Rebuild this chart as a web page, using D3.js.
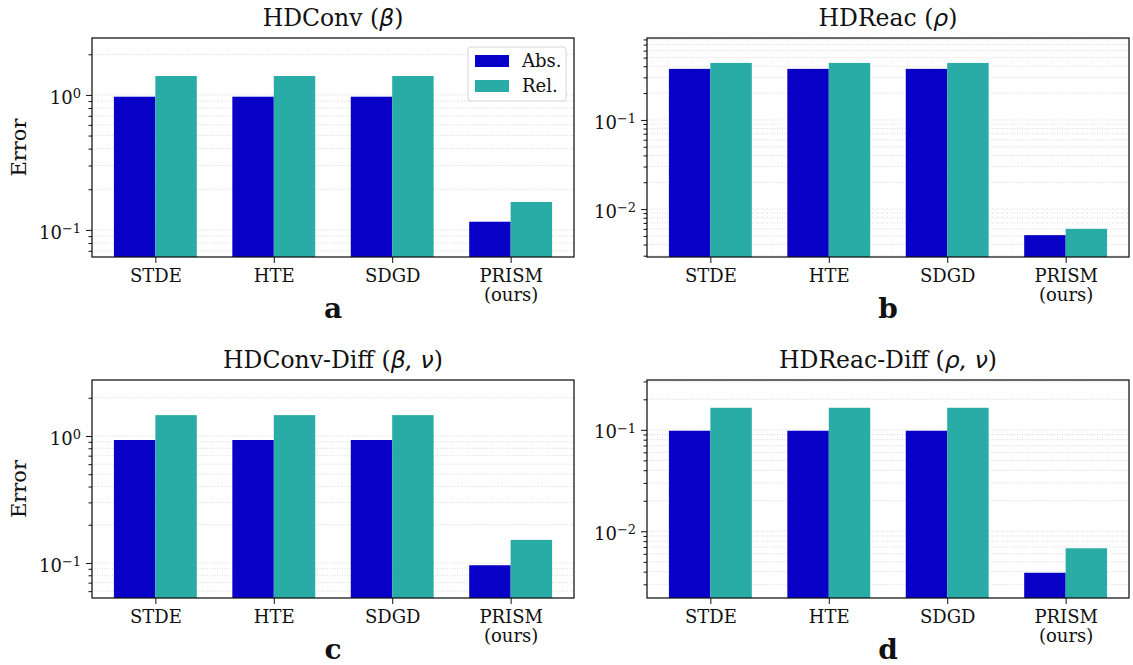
<!DOCTYPE html>
<meta charset="utf-8">
<style>
    body { margin: 0; background: #fff; }
    svg text { font-family: "DejaVu Serif", serif; fill: #111; }
    .grid line { stroke: #cfcfcf; stroke-width: 0.8; stroke-dasharray: 1,1.5; }
    .axis path { display: none; }
    .axis line { stroke: #111; stroke-width: 1; }
    .frame { fill: none; stroke: #111; stroke-width: 1.25; }
</style>
<svg width="1133" height="665"></svg>
<script src="https://d3js.org/d3.v7.min.js"></script>
<script>

    var categories = ["STDE", "HTE", "SDGD", "PRISM"];
    var seriesNames = ["Abs.", "Rel."];
    var colors = ["#0800c6", "#29aba6"];

    // values
    var absA = [0.97, 0.97, 0.97, 0.115],
        relA = [1.38, 1.38, 1.38, 0.161];
    var absB = [0.374, 0.374, 0.374, 0.0051],
        relB = [0.436, 0.436, 0.436, 0.0060];
    var absC = [0.93, 0.93, 0.93, 0.096],
        relC = [1.46, 1.46, 1.46, 0.152];
    var absD = [0.098, 0.098, 0.098, 0.0039],
        relD = [0.165, 0.165, 0.165, 0.0068];

    var panels = [
        { title: "HDConv", params: "β", letter: "a", abs: absA, rel: relA, ylim: [0.063, 2.64],
          box: { x: 92, y: 38, w: 482, h: 219 }, ylabel: true, legend: true },
        { title: "HDReac", params: "ρ", letter: "b", abs: absB, rel: relB, ylim: [0.0029, 0.83],
          box: { x: 647, y: 38, w: 482, h: 219 }, ylabel: false, legend: false },
        { title: "HDConv-Diff", params: "β, ν", letter: "c", abs: absC, rel: relC, ylim: [0.053, 2.76],
          box: { x: 92, y: 380, w: 482, h: 218 }, ylabel: true, legend: false },
        { title: "HDReac-Diff", params: "ρ, ν", letter: "d", abs: absD, rel: relD, ylim: [0.0022, 0.31],
          box: { x: 647, y: 380, w: 482, h: 218 }, ylabel: false, legend: false }
    ];

    var svg = d3.select("svg");
    var barW = 0.35;

    function supLabel(sel, k) {
        sel.text("10");
        sel.append("tspan")
            .attr("dy", "-0.45em")
            .attr("font-size", "0.72em")
            .text(k < 0 ? "\u2212" + (-k) : k);
    }

    panels.forEach(function (p) {
        var b = p.box;
        var g = svg.append("g").attr("transform", "translate(" + b.x + "," + b.y + ")");

        var x = d3.scaleLinear().domain([-0.535, 3.535]).range([0, b.w]);
        var y = d3.scaleLog().domain(p.ylim).range([b.h, 0]);

        // tick values
        var lo = Math.floor(Math.log10(p.ylim[0])), hi = Math.ceil(Math.log10(p.ylim[1]));
        var majors = [], minors = [];
        for (var k = lo; k <= hi; k++) {
            var v = Math.pow(10, k);
            if (v >= p.ylim[0] && v <= p.ylim[1]) majors.push(k);
            for (var m = 2; m <= 9; m++) {
                var mv = m * v;
                if (mv >= p.ylim[0] && mv <= p.ylim[1]) minors.push(mv);
            }
        }
        var majorVals = majors.map(function (k) { return Math.pow(10, k); });

        // grid
        g.append("g").attr("class", "grid")
            .selectAll("line").data(majorVals.concat(minors)).enter().append("line")
            .attr("x1", 0).attr("x2", b.w)
            .attr("y1", function (d) { return y(d); })
            .attr("y2", function (d) { return y(d); });

        // bars
        var series = [p.abs, p.rel];
        series.forEach(function (vals, s) {
            g.append("g").selectAll("rect").data(vals).enter().append("rect")
                .attr("x", function (d, i) { return x(i + (s === 0 ? -barW : 0)); })
                .attr("width", x(barW) - x(0))
                .attr("y", function (d) { return y(d); })
                .attr("height", function (d) { return b.h - y(d); })
                .attr("fill", colors[s]);
        });

        // y axis major
        var ya = g.append("g").attr("class", "axis")
            .call(d3.axisLeft(y).tickValues(majorVals).tickSize(6).tickPadding(5).tickFormat(""));
        ya.selectAll(".tick text").each(function (d) {
            supLabel(d3.select(this), Math.round(Math.log10(d)));
        }).attr("font-size", 18).attr("dy", "0.45em");
        // y axis minor
        g.append("g").attr("class", "axis")
            .call(d3.axisLeft(y).tickValues(minors).tickSize(3.5).tickFormat(""));

        // x axis
        var xa = g.append("g").attr("class", "axis")
            .attr("transform", "translate(0," + b.h + ")")
            .call(d3.axisBottom(x).tickValues([0, 1, 2, 3]).tickSize(6).tickPadding(6.5)
                .tickFormat(function (d) { return categories[d]; }));
        xa.selectAll(".tick text").attr("font-size", 18).attr("fill", "#111")
            .each(function (d) {
                if (categories[d] === "PRISM") {
                    d3.select(this).append("tspan").attr("x", 0).attr("dy", "1.05em").text("(ours)");
                }
            });

        g.append("rect").attr("class", "frame").attr("width", b.w).attr("height", b.h);

        // title
        var t = g.append("text").attr("x", b.w / 2).attr("y", -12)
            .attr("text-anchor", "middle").attr("font-size", 23.5);
        t.append("tspan").text(p.title + " (");
        t.append("tspan").attr("font-family", "DejaVu Sans").attr("font-style", "italic").text(p.params);
        t.append("tspan").text(")");

        // panel letter
        g.append("text").attr("x", b.w / 2).attr("y", b.h + 61)
            .attr("text-anchor", "middle").attr("font-size", 28).attr("font-weight", "bold")
            .text(p.letter);

        if (p.ylabel) {
            g.append("text")
                .attr("transform", "translate(-66," + (b.h / 2) + ") rotate(-90)")
                .attr("text-anchor", "middle").attr("font-size", 21)
                .text("Error");
        }

        if (p.legend) {
            var lg = g.append("g").attr("transform", "translate(" + (b.w - 106) + ",9)");
            lg.append("rect").attr("width", 98).attr("height", 54).attr("rx", 3)
                .attr("fill", "white").attr("fill-opacity", 0.85)
                .attr("stroke", "#d6d6d6").attr("stroke-width", 1);
            seriesNames.forEach(function (n, s) {
                lg.append("rect").attr("x", 7).attr("y", 8 + s * 25).attr("width", 34).attr("height", 12)
                    .attr("fill", colors[s]);
                lg.append("text").attr("x", 54).attr("y", 20 + s * 25).attr("font-size", 18).text(n);
            });
        }
    });

</script>
